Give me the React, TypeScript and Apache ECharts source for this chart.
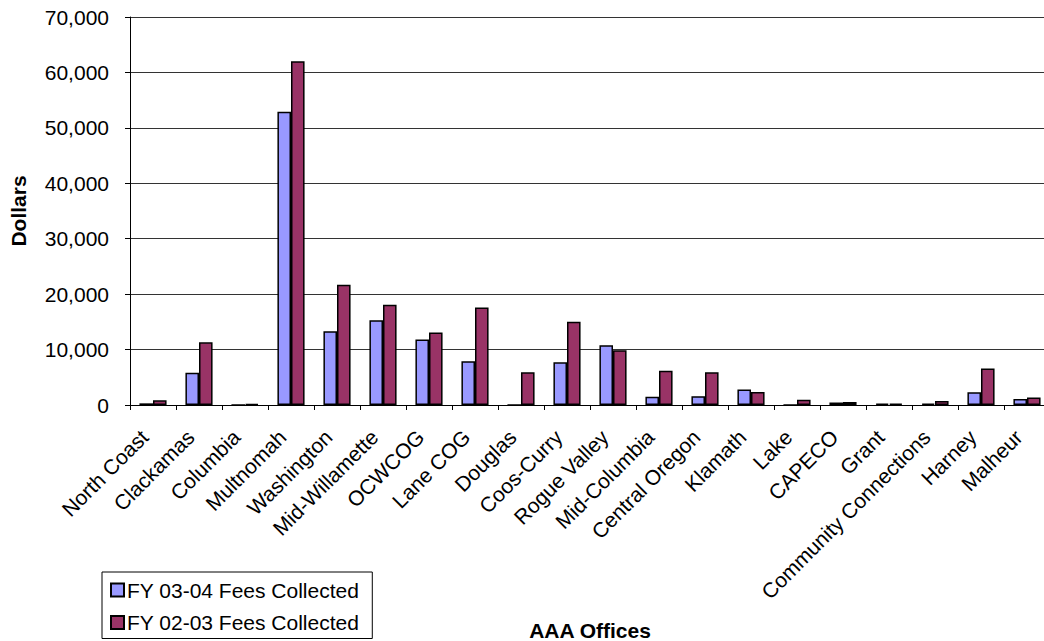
import React, { useEffect, useRef } from "react";
import * as echarts from "echarts";

const categories = [
  "North Coast", "Clackamas", "Columbia", "Multnomah", "Washington",
  "Mid-Willamette", "OCWCOG", "Lane COG", "Douglas", "Coos-Curry",
  "Rogue Valley", "Mid-Columbia", "Central Oregon", "Klamath", "Lake",
  "CAPECO", "Grant", "Community Connections", "Harney", "Malheur",
];
const fy0304 = [300, 5800, 0, 52900, 13300, 15300, 11800, 7900, 0, 7700, 10800, 1500, 1600, 2800, 0, 450, 250, 250, 2300, 1100];
const fy0203 = [850, 11300, 200, 62000, 21700, 18100, 13100, 17600, 5900, 15000, 9900, 6200, 5900, 2350, 950, 550, 250, 700, 6600, 1350];
const seriesNames = ["FY 03-04 Fees Collected", "FY 02-03 Fees Collected"];

const FONT = "'Liberation Sans', Arial, sans-serif";
const FS = 21;

export default function App() {
  const ref = useRef<HTMLDivElement>(null);
  useEffect(() => {
    if (!ref.current) return;
    const chart = echarts.init(ref.current, null, { renderer: "svg" });
    chart.setOption({
      animation: false,
      backgroundColor: "#ffffff",
      textStyle: { fontFamily: FONT },
      grid: {
        left: 130,
        top: 17,
        width: 920,
        height: 388,
        containLabel: false,
        outerBoundsMode: "none",
      },
      legend: {
        orient: "vertical",
        left: 102,
        top: 572,
        borderColor: "#000",
        borderWidth: 1,
        padding: [6, 13, 4, 8],
        itemGap: 8.5,
        itemWidth: 13,
        itemHeight: 13,
        icon: "rect",
        textStyle: { fontSize: FS, lineHeight: 24, color: "#000", fontFamily: FONT, padding: [0, 0, 0, -2] },
        data: seriesNames,
      },
      xAxis: {
        type: "category",
        data: categories,
        name: "AAA Offices",
        nameLocation: "middle",
        nameGap: 215,
        nameTextStyle: { fontSize: FS, fontWeight: "bold", color: "#000", fontFamily: FONT },
        axisLine: { lineStyle: { color: "#000", width: 1 } },
        axisTick: { show: true, length: 5, lineStyle: { color: "#000" } },
        axisLabel: {
          interval: 0,
          rotate: 45,
          fontSize: FS,
          color: "#000",
          margin: 20,
          padding: [0, 12, 0, 0],
          fontFamily: FONT,
        },
        splitLine: { show: false },
      },
      yAxis: {
        type: "value",
        min: 0,
        max: 70000,
        interval: 10000,
        name: "Dollars",
        nameLocation: "middle",
        nameGap: 101,
        nameTextStyle: { fontSize: FS, fontWeight: "bold", color: "#000", fontFamily: FONT },
        axisLine: { show: true, lineStyle: { color: "#000", width: 1 } },
        axisTick: { show: true, length: 5, lineStyle: { color: "#000" } },
        axisLabel: {
          fontSize: FS,
          color: "#000",
          margin: 21,
          fontFamily: FONT,
          formatter: (v: number) => v.toLocaleString("en-US"),
        },
        splitLine: { show: true, lineStyle: { color: "#333", width: 1 } },
      },
      series: [
        {
          name: seriesNames[0],
          type: "bar",
          data: fy0304,
          barGap: "0%",
          barCategoryGap: "41%",
          itemStyle: { color: "#9999FF", borderColor: "#000", borderWidth: 1.5 },
        },
        {
          name: seriesNames[1],
          type: "bar",
          data: fy0203,
          barGap: "0%",
          barCategoryGap: "41%",
          itemStyle: { color: "#993366", borderColor: "#000", borderWidth: 1.5 },
        },
      ],
    });
    return () => chart.dispose();
  }, []);
  return (
    <div
      ref={ref}
      style={{ position: "absolute", left: 0, top: 0, width: 1044, height: 641 }}
    />
  );
}
